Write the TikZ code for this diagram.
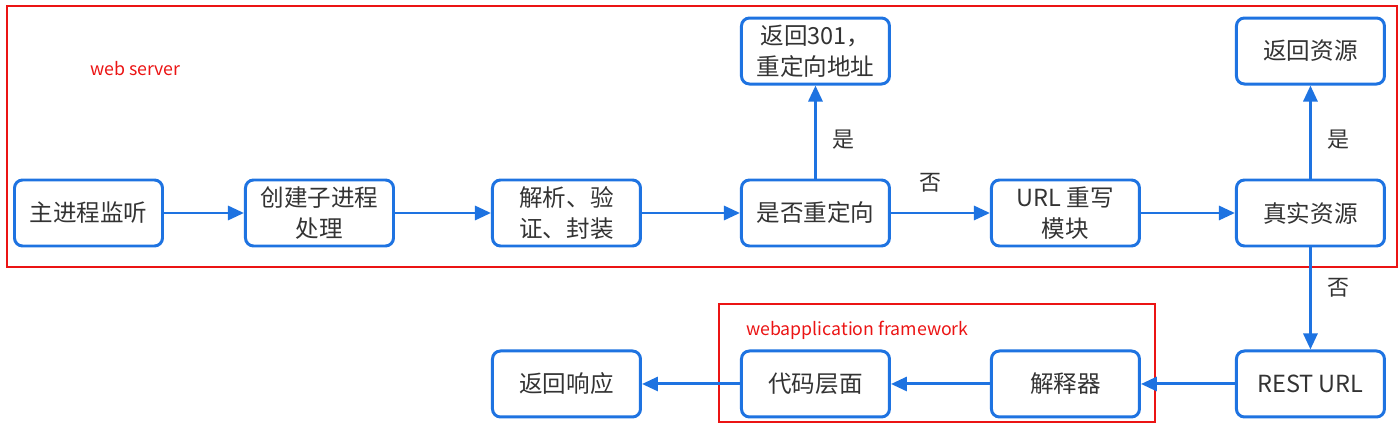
\documentclass[tikz,border=0pt]{standalone}
\usepackage{fontspec}
\setmainfont{Noto Sans CJK SC}
\usepackage{tikz}
\usetikzlibrary{arrows.meta,positioning}
\definecolor{flowblue}{RGB}{30,115,225}
\definecolor{framered}{RGB}{235,20,20}
\definecolor{textgray}{RGB}{51,51,51}

\begin{document}
\begin{tikzpicture}[
  >={Triangle[length=3.2mm,width=2.8mm]},
  every node/.style={font=\fontsize{13.4pt}{17.6pt}\selectfont, text=textgray},
  box/.style={draw=flowblue, line width=1.7pt, rounded corners=1.6mm,
    minimum width=2.96cm, minimum height=1.32cm, align=center, inner sep=1pt},
  flow/.style={->, draw=flowblue, line width=1.7pt},
  frame/.style={draw=framered, line width=1.1pt},
  tag/.style={font=\fontsize{10.1pt}{12pt}\selectfont, text=framered, anchor=west},
  lbl/.style={font=\fontsize{12.5pt}{14pt}\selectfont}
]
  \useasboundingbox (0,0) rectangle (28,-8.58);

  % Frames
  \draw[frame] (0.14,-0.12) rectangle (27.94,-5.34);
  \draw[frame] (14.38,-6.08) rectangle (23.1,-8.44);
  \node (ws) [tag] at (1.68,-1.38) {web server};
  \node (wf) [tag] at (14.8,-6.6) {webapplication framework};

  % Middle row
  \node (main) [box] at (1.77,-4.26) {主进程监听};
  \node (sub) [box, right=1.6cm of main] {创建子进程\\处理};
  \node (parse) [box, right=1.92cm of sub] {解析、验\\证、封装};
  \node (redir) [box, right=1.96cm of parse] {是否重定向};
  \node (rewrite) [box, right=1.98cm of redir] {URL 重写\\模块};
  \node (real) [box, right=1.88cm of rewrite] {真实资源};

  % Top row
  \node (ret301) [box, above=1.86cm of redir] {返回301，\\重定向地址};
  \node (retres) [box, above=1.86cm of real] {返回资源};

  % Bottom row
  \node (rest) [box, below=2.04cm of real] {REST URL};
  \node (interp) [box, left=1.88cm of rest] {解释器};
  \node (code) [box, left=1.98cm of interp] {代码层面};
  \node (resp) [box, left=1.96cm of code] {返回响应};

  % Arrows
  \draw[flow] (main) -- (sub);
  \draw[flow] (sub) -- (parse);
  \draw[flow] (parse) -- (redir);
  \draw[flow] (redir) -- (ret301) node[lbl, midway, right=2mm, yshift=-1.6mm] {是};
  \draw[flow] (redir) -- (rewrite) node[lbl, midway, above=2.6mm, xshift=-1.9mm] {否};
  \draw[flow] (rewrite) -- (real);
  \draw[flow] (real) -- (retres) node[lbl, midway, right=2mm, yshift=-1.6mm] {是};
  \draw[flow] (real) -- (rest) node[lbl, midway, right=2mm, yshift=2.2mm] {否};
  \draw[flow] (rest) -- (interp);
  \draw[flow] (interp) -- (code);
  \draw[flow] (code) -- (resp);
\end{tikzpicture}
\end{document}
